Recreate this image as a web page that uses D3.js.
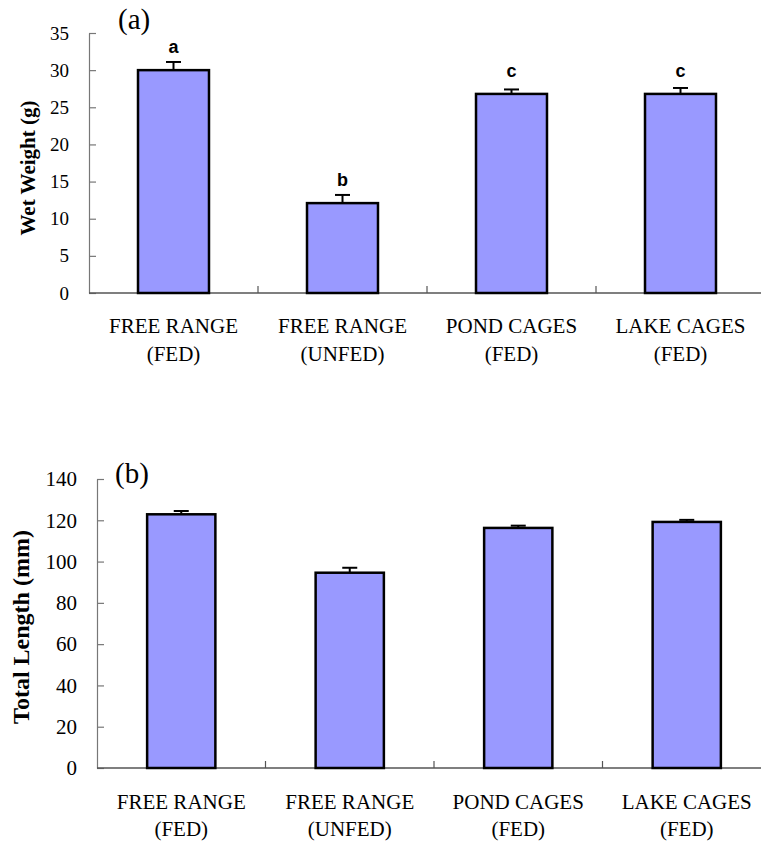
<!DOCTYPE html>
<html>
<head>
<meta charset="utf-8">
<script src="https://cdn.jsdelivr.net/npm/d3@7"></script>
<style>
  html, body { margin: 0; padding: 0; background: #fff; }
  svg { display: block; }
</style>
</head>
<body>
<svg id="chart" width="761" height="844"></svg>
<script>
// ---- data ----
const categories = ["FREE RANGE|(FED)", "FREE RANGE|(UNFED)", "POND CAGES|(FED)", "LAKE CAGES|(FED)"];
const wetWeight = [30.0, 12.1, 26.8, 26.8];
const wetWeightErr = [1.1, 1.1, 0.6, 0.8];
const wetWeightLetters = ["a", "b", "c", "c"];
const wetWeightTicks = [0, 5, 10, 15, 20, 25, 30, 35];
const totalLength = [122.9, 94.6, 116.3, 119.2];
const totalLengthErr = [1.6, 2.4, 1.1, 1.0];
const totalLengthTicks = [0, 20, 40, 60, 80, 100, 120, 140];

const svg = d3.select("#chart");

function panel(opt) {
  const g = svg.append("g");
  const x = d3.scaleBand().domain(categories).range([opt.left, opt.right]).padding(0);
  const y = d3.scaleLinear().domain([0, opt.max]).range([opt.bottom, opt.top]);
  const bw = x.step() * opt.barFrac;

  // y axis
  const yAxis = d3.axisLeft(y).tickValues(opt.ticks).tickSizeInner(-7).tickSizeOuter(0).tickPadding(20);
  const ya = g.append("g").attr("transform", `translate(${opt.left},0)`).call(yAxis);
  ya.select(".domain").attr("stroke", "#777").attr("stroke-width", 1.2);
  ya.selectAll(".tick line").attr("stroke", "#777").attr("stroke-width", 1.2);
  ya.selectAll(".tick text")
    .attr("font-family", "'Liberation Serif', 'Times New Roman', serif")
    .attr("font-size", opt.tickFont).attr("fill", "#000");

  // x axis line
  g.append("line").attr("x1", opt.left).attr("x2", 761).attr("y1", y(0)).attr("y2", y(0))
    .attr("stroke", "#555").attr("stroke-width", 1.5);
  // category separator ticks
  g.selectAll(".ctick").data(categories.slice(1)).enter().append("line")
    .attr("x1", d => x(d)).attr("x2", d => x(d))
    .attr("y1", y(0)).attr("y2", y(0) - 7)
    .attr("stroke", "#555").attr("stroke-width", 1.2);

  // error bars
  const eb = g.selectAll(".err").data(opt.values.map((v, i) => ({c: categories[i], v, e: opt.errs[i]})))
    .enter().append("g");
  eb.append("line")
    .attr("x1", d => x(d.c) + x.step() / 2).attr("x2", d => x(d.c) + x.step() / 2)
    .attr("y1", d => y(d.v)).attr("y2", d => y(d.v + d.e))
    .attr("stroke", "#000").attr("stroke-width", 2);
  eb.append("line")
    .attr("x1", d => x(d.c) + x.step() / 2 - 7.5).attr("x2", d => x(d.c) + x.step() / 2 + 7.5)
    .attr("y1", d => y(d.v + d.e)).attr("y2", d => y(d.v + d.e))
    .attr("stroke", "#000").attr("stroke-width", 2);

  // bars
  g.selectAll(".bar").data(opt.values.map((v, i) => ({c: categories[i], v})))
    .enter().append("rect")
    .attr("x", d => x(d.c) + (x.step() - bw) / 2)
    .attr("width", bw)
    .attr("y", d => y(d.v))
    .attr("height", d => y(0) - y(d.v))
    .attr("fill", "#9999FF").attr("stroke", "#000").attr("stroke-width", 2.5);

  // significance letters
  if (opt.letters) {
    g.selectAll(".let").data(opt.values.map((v, i) => ({c: categories[i], v, l: opt.letters[i]})))
      .enter().append("text")
      .attr("x", d => x(d.c) + x.step() / 2)
      .attr("y", d => y(d.v) - 17)
      .attr("text-anchor", "middle")
      .attr("font-family", "'Liberation Sans', Arial, sans-serif")
      .attr("font-weight", "bold").attr("font-size", 18)
      .text(d => d.l);
  }

  // category labels
  const cl = g.selectAll(".cat").data(categories).enter().append("text")
    .attr("text-anchor", "middle")
    .attr("font-family", "'Liberation Serif', 'Times New Roman', serif")
    .attr("font-size", opt.catFont);
  cl.append("tspan").attr("x", d => x(d) + x.step() / 2).attr("y", opt.cat1).text(d => d.split("|")[0]);
  cl.append("tspan").attr("x", d => x(d) + x.step() / 2).attr("y", opt.cat2).text(d => d.split("|")[1]);

  // y title
  g.append("text")
    .attr("transform", `translate(${opt.titleX},${opt.titleY}) rotate(-90)`)
    .attr("text-anchor", "middle")
    .attr("font-family", "'Liberation Serif', 'Times New Roman', serif")
    .attr("font-weight", "bold").attr("font-size", opt.titleFont)
    .text(opt.title);

  // panel label
  g.append("text").attr("x", opt.labX).attr("y", opt.labY)
    .attr("font-family", "'Liberation Serif', 'Times New Roman', serif")
    .attr("font-size", 29).text(opt.label);
}

panel({
  left: 89, right: 765, top: 33, bottom: 293, max: 35,
  ticks: wetWeightTicks, values: wetWeight, errs: wetWeightErr, letters: wetWeightLetters,
  barFrac: 0.42, tickFont: 19, catFont: 21, cat1: 333, cat2: 361,
  title: "Wet Weight (g)", titleFont: 21, titleX: 35, titleY: 168,
  label: "(a)", labX: 118, labY: 29
});

panel({
  left: 97, right: 771, top: 479, bottom: 768, max: 140,
  ticks: totalLengthTicks, values: totalLength, errs: totalLengthErr, letters: null,
  barFrac: 0.405, tickFont: 21, catFont: 21, cat1: 809, cat2: 836,
  title: "Total Length (mm)", titleFont: 24, titleX: 29, titleY: 627,
  label: "(b)", labX: 115, labY: 483
});
</script>
</body>
</html>
